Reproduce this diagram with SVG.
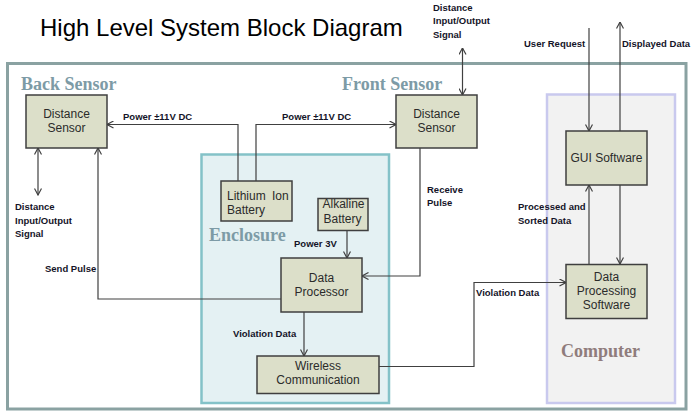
<svg xmlns="http://www.w3.org/2000/svg" width="700" height="419" viewBox="0 0 700 419">
<style>
.box{fill:#dcdfc9;stroke:#3f3f3f;stroke-width:1.5}
.bt{font-family:"Liberation Sans",Arial,sans-serif;font-size:12px;fill:#2b2b2b}
.lb{font-family:"Liberation Sans",Arial,sans-serif;font-size:9.5px;font-weight:bold;fill:#141428}
.gl{font-family:"Liberation Serif","Times New Roman",serif;font-size:18px;font-weight:bold}
.c{fill:none;stroke:#404040;stroke-width:1.2}
</style>
<defs>
<marker id="ah" viewBox="0 0 8 8" refX="7.5" refY="4" markerWidth="8" markerHeight="8" markerUnits="userSpaceOnUse" orient="auto-start-reverse">
<path d="M1,0.5 L7.5,4 L1,7.5" fill="none" stroke="#404040" stroke-width="1.2"/>
</marker>
</defs>
<rect width="700" height="419" fill="#ffffff"/>
<text x="40" y="36" font-family="Liberation Sans, Arial, sans-serif" font-size="24" fill="#000">High Level System Block Diagram</text>

<g id="frame">
<rect x="7.5" y="63.5" width="678.5" height="345.5" fill="#ffffff" stroke="#8aa2a2" stroke-width="3"/>
</g>
<g id="enclosure">
<rect x="201.5" y="154.5" width="187.5" height="248.5" fill="#e4f1f3" stroke="#84c2c8" stroke-width="2.5"/>
<text class="gl" x="209" y="241" fill="#7d9ba6">Enclosure</text>
</g>
<g id="computer">
<rect x="547" y="94.5" width="128" height="308.5" fill="#f2f2f2" stroke="#c9c9ee" stroke-width="2.5"/>
<text class="gl" x="561" y="357" fill="#8f7c7c">Computer</text>
</g>

<text class="gl" x="21" y="90" fill="#7d9ba6">Back Sensor</text>
<text class="gl" x="342" y="90" fill="#7d9ba6">Front Sensor</text>

<g id="connectors">
<polyline class="c" points="238,181 238,124.5 107,124.5" marker-end="url(#ah)"/>
<polyline class="c" points="256,181 256,124.5 396,124.5" marker-end="url(#ah)"/>
<line class="c" x1="38" y1="148" x2="38" y2="195" marker-start="url(#ah)" marker-end="url(#ah)"/>
<polyline class="c" points="282,299 98,299 98,148" marker-end="url(#ah)"/>
<line class="c" x1="462.5" y1="48" x2="462.5" y2="95" marker-start="url(#ah)" marker-end="url(#ah)"/>
<polyline class="c" points="420,148 420,276 362,276" marker-end="url(#ah)"/>
<line class="c" x1="347" y1="230.5" x2="347" y2="258" marker-end="url(#ah)"/>
<line class="c" x1="304" y1="312" x2="304" y2="356" marker-end="url(#ah)"/>
<polyline class="c" points="379,366.5 474,366.5 474,282.5 566,282.5" marker-end="url(#ah)"/>
<line class="c" x1="589" y1="28" x2="589" y2="131" marker-end="url(#ah)"/>
<line class="c" x1="620" y1="131" x2="620" y2="22" marker-end="url(#ah)"/>
<line class="c" x1="620" y1="185" x2="620" y2="264" marker-end="url(#ah)"/>
<line class="c" x1="589" y1="264" x2="589" y2="185" marker-end="url(#ah)"/>
</g>

<g id="labels">
<text class="lb" x="123" y="120">Power ±11V DC</text>
<text class="lb" x="282" y="120">Power ±11V DC</text>
<text class="lb" x="15" y="210">Distance</text>
<text class="lb" x="15" y="223.5">Input/Output</text>
<text class="lb" x="15" y="237">Signal</text>
<text class="lb" x="45" y="272">Send Pulse</text>
<text class="lb" x="433" y="10.5">Distance</text>
<text class="lb" x="433" y="24">Input/Output</text>
<text class="lb" x="433" y="37.5">Signal</text>
<text class="lb" x="427" y="192.5">Receive</text>
<text class="lb" x="427" y="205.5">Pulse</text>
<text class="lb" x="294" y="246.5">Power 3V</text>
<text class="lb" x="233" y="337">Violation Data</text>
<text class="lb" x="476" y="296">Violation Data</text>
<text class="lb" x="518" y="210">Processed and</text>
<text class="lb" x="518" y="223.5">Sorted Data</text>
<text class="lb" x="524" y="47">User Request</text>
<text class="lb" x="622" y="47">Displayed Data</text>
</g>

<g id="back-sensor">
<rect class="box" x="26" y="95" width="81" height="53"/>
<text class="bt" x="66.5" y="118" text-anchor="middle">Distance</text>
<text class="bt" x="66.5" y="132" text-anchor="middle">Sensor</text>
</g>
<g id="front-sensor">
<rect class="box" x="396" y="95" width="81" height="53"/>
<text class="bt" x="436.5" y="118" text-anchor="middle">Distance</text>
<text class="bt" x="436.5" y="132" text-anchor="middle">Sensor</text>
</g>
<g id="lithium-battery">
<rect class="box" x="221" y="181" width="71" height="40"/>
<text class="bt" x="227" y="200" word-spacing="3">Lithium Ion</text>
<text class="bt" x="227" y="214">Battery</text>
</g>
<g id="alkaline-battery">
<rect class="box" x="318" y="198.5" width="50" height="32"/>
<text class="bt" x="322.5" y="208">Alkaline</text>
<text class="bt" x="323.5" y="222.5">Battery</text>
</g>
<g id="data-processor">
<rect class="box" x="281" y="258" width="81" height="54"/>
<text class="bt" x="321.5" y="281.5" text-anchor="middle">Data</text>
<text class="bt" x="321.5" y="295.5" text-anchor="middle">Processor</text>
</g>
<g id="wireless">
<rect class="box" x="257" y="356" width="122" height="37.5"/>
<text class="bt" x="318" y="370" text-anchor="middle">Wireless</text>
<text class="bt" x="318" y="384" text-anchor="middle">Communication</text>
</g>
<g id="gui-software">
<rect class="box" x="566" y="131" width="81" height="54"/>
<text class="bt" x="606.5" y="162" text-anchor="middle">GUI Software</text>
</g>
<g id="data-processing-software">
<rect class="box" x="566" y="264.5" width="81" height="54"/>
<text class="bt" x="606.5" y="280.5" text-anchor="middle">Data</text>
<text class="bt" x="606.5" y="294.5" text-anchor="middle">Processing</text>
<text class="bt" x="606.5" y="308.5" text-anchor="middle">Software</text>
</g>
</svg>
